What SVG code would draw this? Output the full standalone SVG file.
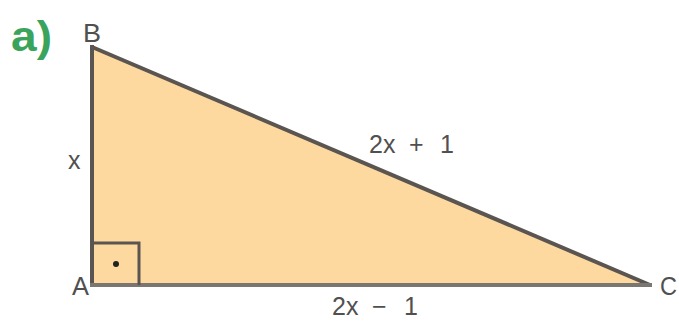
<svg xmlns="http://www.w3.org/2000/svg" width="679" height="322" viewBox="0 0 679 322">
<style>
.lbl{font-family:"Liberation Sans",Arial,sans-serif;font-size:25px;fill:#505050;}
.edge{stroke:#5a5550;stroke-width:4;fill:none;stroke-linejoin:miter;}
</style>
<rect width="679" height="322" fill="#fff"/>
<text x="11" y="51" font-family="Liberation Sans,Arial,sans-serif" font-size="42" font-weight="bold" fill="#3aa35c" textLength="41" lengthAdjust="spacingAndGlyphs">a)</text>
<g id="triangle">
<polygon points="92,47 92,285 650,285" fill="#fdd9a0"/>
<line class="edge" x1="92" y1="47" x2="650" y2="285"/>
<line class="edge" x1="92" y1="45" x2="92" y2="287"/>
<line x1="90" y1="285" x2="652" y2="285" stroke="#7a7672" stroke-width="4"/>
</g>
<g id="right-angle">
<polyline points="92,243 139,243 139,285" fill="none" stroke="#5a5550" stroke-width="3"/>
<circle cx="116" cy="264" r="3" fill="#222"/>
</g>
<g id="labels">
<text class="lbl" x="83" y="42" textLength="18" lengthAdjust="spacingAndGlyphs">B</text>
<text class="lbl" x="72" y="295" textLength="17" lengthAdjust="spacingAndGlyphs">A</text>
<text class="lbl" x="660" y="295" textLength="17" lengthAdjust="spacingAndGlyphs">C</text>
<text class="lbl" x="68" y="169">x</text>
<text class="lbl" y="153"><tspan x="369">2x</tspan><tspan x="409">+</tspan><tspan x="440">1</tspan></text>
<text class="lbl" y="315"><tspan x="332">2x</tspan><tspan x="372">−</tspan><tspan x="404">1</tspan></text>
</g>
</svg>
